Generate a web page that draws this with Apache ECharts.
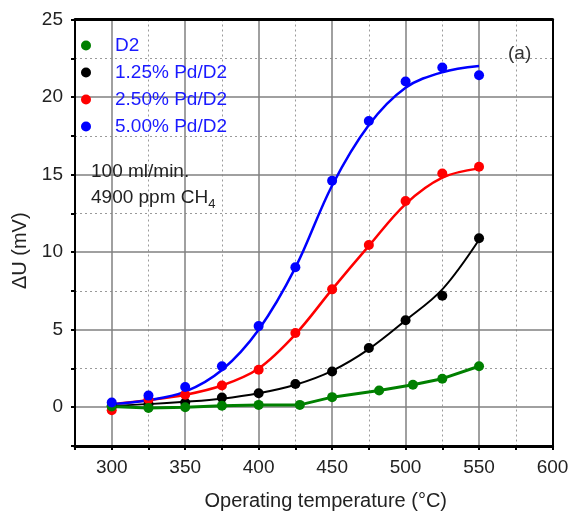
<!DOCTYPE html>
<html>
<head>
<meta charset="utf-8">
<script src="https://cdn.jsdelivr.net/npm/echarts@6/dist/echarts.min.js"></script>
<style>
html,body{margin:0;padding:0;background:#fff;}
#chart{width:568px;height:514px;}
</style>
</head>
<body>
<div id="chart"></div>
<script>
// ---- data ----
const temps = [300, 325, 350, 375, 400, 425, 450, 475, 500, 525, 550];
const seriesNames = ['D2', '1.25% Pd/D2', '2.50% Pd/D2', '5.00% Pd/D2'];
// measured points
const d2Temps = [300, 325, 350, 375, 400, 428, 450, 482, 505, 525, 550];
const d2Values = [0.05, -0.05, 0.0, 0.1, 0.15, 0.15, 0.65, 1.08, 1.45, 1.84, 2.64];
const pd125Values = [0.1, 0.2, 0.3, 0.62, 0.9, 1.5, 2.3, 3.82, 5.61, 7.19, 10.9];
const pd250Values = [-0.2, 0.5, 0.8, 1.4, 2.42, 4.79, 7.6, 10.46, 13.3, 15.07, 15.5];
const pd500Values = [0.3, 0.75, 1.3, 2.64, 5.23, 9.03, 14.6, 18.46, 21.0, 21.9, 21.4];
// fitted curves
const pd125Fit = [0.1, 0.2, 0.35, 0.55, 0.9, 1.45, 2.35, 3.75, 5.6, 7.6, 10.8];
const pd250Fit = [0.2, 0.45, 0.8, 1.4, 2.5, 4.7, 7.6, 10.4, 13.1, 14.8, 15.4];
const pd500Fit = [0.2, 0.45, 1.0, 2.4, 5.0, 9.0, 14.3, 18.2, 20.6, 21.6, 22.0];
// axis ticks
const xMin = 275, xMax = 600, xStep = 25, xLabelStep = 50;
const yMin = -2.5, yMax = 25, yStep = 2.5, yLabelStep = 5;

const colors = { d2: '#008000', pd125: '#000000', pd250: '#ff0000', pd500: '#0000ff' };
const FONT = "'Liberation Sans', Arial, sans-serif";
const pairs = (xs, ys) => xs.map((x, i) => [x, ys[i]]);
const chart = echarts.init(document.getElementById('chart'), null, { renderer: 'canvas' });

const minorLine = { show: true, lineStyle: { color: '#9a9a9a', width: 1, type: [2, 3] } };
const hidden = { axisLine: { show: false }, axisTick: { show: false }, axisLabel: { show: false } };

const option = {
  backgroundColor: '#ffffff',
  animation: false,
  textStyle: { fontFamily: FONT },
  grid: { left: 75, right: 15.5, top: 19.5, bottom: 68, containLabel: false, outerBoundsMode: 'none' },
  xAxis: [
    {
      type: 'value', min: xMin, max: xMax, interval: xStep, position: 'bottom', z: 2,
      name: 'Operating temperature (°C)', nameLocation: 'middle', nameGap: 45,
      nameTextStyle: { fontSize: 20, color: '#222', fontFamily: FONT, padding: [0, 0, 0, 24] },
      axisLine: { show: true, onZero: false, lineStyle: { color: '#000', width: 3 } },
      axisTick: { show: true, inside: false, length: 4, lineStyle: { color: '#000', width: 2 } },
      axisLabel: { margin: 12, fontSize: 19, color: '#222', fontFamily: FONT,
        formatter: v => (v % xLabelStep === 0 ? String(v) : '') },
      splitLine: { show: true, lineStyle: { color: ['rgba(0,0,0,0)', '#808080'], width: 1.5 } }
    },
    Object.assign({ type: 'value', min: xMin, max: xMax, interval: xLabelStep, position: 'bottom', z: 1,
      splitLine: minorLine }, hidden),
    {
      type: 'value', min: xMin, max: xMax, interval: xStep, position: 'top', z: 3,
      axisTick: { show: false }, axisLabel: { show: false }, splitLine: { show: false },
      axisLine: { show: true, onZero: false, lineStyle: { color: '#000', width: 3 } }
    }
  ],
  yAxis: [
    {
      type: 'value', min: yMin, max: yMax, interval: yStep, position: 'left', z: 2,
      name: 'ΔU (mV)', nameLocation: 'middle', nameGap: 32,
      nameTextStyle: { fontSize: 20, color: '#222', fontFamily: FONT, padding: [0, 36, 0, 0] },
      axisLine: { show: true, onZero: false, lineStyle: { color: '#000', width: 2 } },
      axisTick: { show: true, inside: false, length: 4, lineStyle: { color: '#000', width: 2 } },
      axisLabel: { margin: 12, fontSize: 19, color: '#222', fontFamily: FONT,
        formatter: v => (Math.abs(v % yLabelStep) < 1e-9 ? String(v) : '') },
      splitLine: { show: true, lineStyle: { color: ['rgba(0,0,0,0)', '#808080'], width: 1.5 } }
    },
    Object.assign({ type: 'value', min: yMin, max: yMax, interval: yLabelStep, position: 'left', z: 1,
      splitLine: minorLine }, hidden),
    {
      type: 'value', min: yMin, max: yMax, interval: yStep, position: 'right', z: 3,
      axisTick: { show: false }, axisLabel: { show: false }, splitLine: { show: false },
      axisLine: { show: true, onZero: false, lineStyle: { color: '#000', width: 2 } }
    }
  ],
  legend: {
    data: seriesNames, orient: 'vertical', left: 81, top: 36, padding: 0,
    itemWidth: 48, itemHeight: 10, itemGap: 8, icon: 'circle',
    textStyle: { fontSize: 19, color: '#1a1aff', fontFamily: FONT }, selectedMode: false
  },
  graphic: [
    { type: 'text', x: 91, y: 172, z: 10,
      style: { text: '100 ml/min.', font: '19px ' + FONT, fill: '#222', verticalAlign: 'middle' } },
    { type: 'text', x: 91, y: 198, z: 10,
      style: { text: '4900 ppm CH{s|4}', font: '19px ' + FONT, fill: '#222', verticalAlign: 'middle',
        rich: { s: { fontSize: 13, fontFamily: FONT, fill: '#222', padding: [12, 0, 0, 0] } } } },
    { type: 'text', x: 508, y: 54, z: 10,
      style: { text: '(a)', font: '19px ' + FONT, fill: '#333', verticalAlign: 'middle' } }
  ],
  series: [
    { name: 'fit125', type: 'line', smooth: 0.35, showSymbol: false, z: 4,
      data: pairs(temps, pd125Fit), lineStyle: { color: colors.pd125, width: 2 }, itemStyle: { color: colors.pd125 } },
    { name: 'fit250', type: 'line', smooth: 0.35, showSymbol: false, z: 4,
      data: pairs(temps, pd250Fit), lineStyle: { color: colors.pd250, width: 2.5 }, itemStyle: { color: colors.pd250 } },
    { name: 'fit500', type: 'line', smooth: 0.35, showSymbol: false, z: 4,
      data: pairs(temps, pd500Fit), lineStyle: { color: colors.pd500, width: 2.5 }, itemStyle: { color: colors.pd500 } },
    { name: 'lineD2', type: 'line', smooth: false, showSymbol: false, z: 4,
      data: pairs(d2Temps, d2Values), lineStyle: { color: colors.d2, width: 3 }, itemStyle: { color: colors.d2 } },
    { name: seriesNames[1], type: 'scatter', symbol: 'circle', symbolSize: 10, z: 5,
      data: pairs(temps, pd125Values), itemStyle: { color: colors.pd125, opacity: 1 } },
    { name: seriesNames[2], type: 'scatter', symbol: 'circle', symbolSize: 10, z: 5,
      data: pairs(temps, pd250Values), itemStyle: { color: colors.pd250, opacity: 1 } },
    { name: seriesNames[0], type: 'scatter', symbol: 'circle', symbolSize: 10, z: 5,
      data: pairs(d2Temps, d2Values), itemStyle: { color: colors.d2, opacity: 1 } },
    { name: seriesNames[3], type: 'scatter', symbol: 'circle', symbolSize: 10, z: 5,
      data: pairs(temps, pd500Values), itemStyle: { color: colors.pd500, opacity: 1 } }
  ]
};
chart.setOption(option);
</script>
</body>
</html>
